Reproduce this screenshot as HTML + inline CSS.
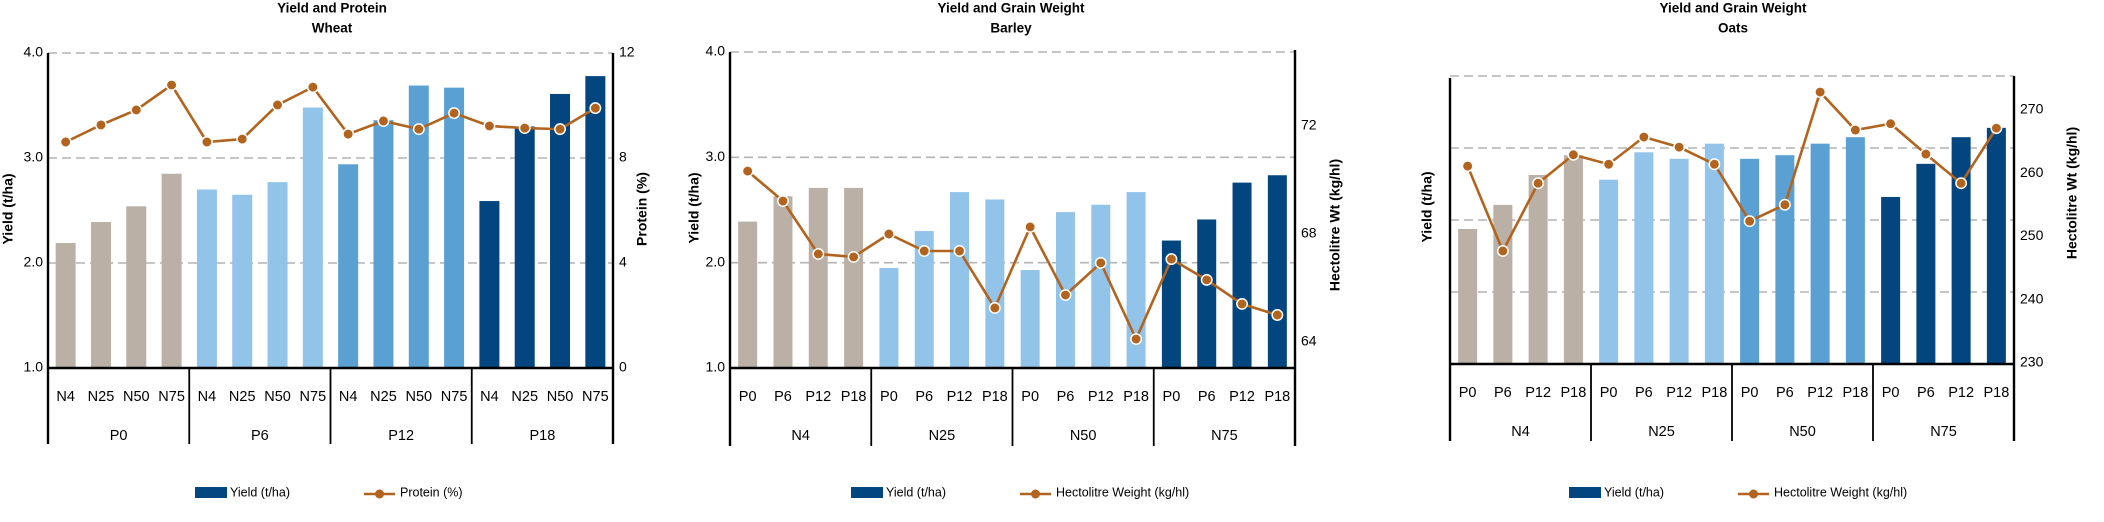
<!DOCTYPE html>
<html><head><meta charset="utf-8"><style>
html,body{margin:0;padding:0;background:#fff;}
svg{display:block;font-family:"Liberation Sans",Arial,sans-serif;}
</style></head><body>
<svg id="svg" width="2104" height="522" viewBox="0 0 2104 522" xmlns="http://www.w3.org/2000/svg"></svg>
<script>
// ---- Wheat data ----
const wheatGroups = ["P0","P6","P12","P18"];
const wheatSub = ["N4","N25","N50","N75"];
const wheatYield = [2.19,2.39,2.54,2.85, 2.70,2.65,2.77,3.48, 2.94,3.36,3.69,3.67, 2.59,3.30,3.61,3.78];
const wheatProtein = [8.61,9.26,9.83,10.78, 8.61,8.72,10.02,10.70, 8.91,9.41,9.10,9.71, 9.22,9.14,9.10,9.90];
const wheatLeftTicks = ["4.0","3.0","2.0","1.0"];
const wheatLeftTickVals = [4,3,2,1];
const wheatRightTicks = ["12","8","4","0"];
const wheatRightTickVals = [12,8,4,0];
// ---- Barley data ----
const barleyGroups = ["N4","N25","N50","N75"];
const barleySub = ["P0","P6","P12","P18"];
const barleyYield = [2.39,2.63,2.71,2.71, 1.95,2.30,2.67,2.60, 1.93,2.48,2.55,2.67, 2.21,2.41,2.76,2.83];
const barleyHW = [70.33,69.22,67.26,67.15, 68.0,67.37,67.37,65.26, 68.26,65.74,66.93,64.11, 67.07,66.30,65.41,65.0];
const barleyLeftTicks = ["4.0","3.0","2.0","1.0"];
const barleyLeftTickVals = [4,3,2,1];
const barleyRightTicks = ["72","68","64"];
const barleyRightTickVals = [72,68,64];
// ---- Oats data ----
const oatsGroups = ["N4","N25","N50","N75"];
const oatsSub = ["P0","P6","P12","P18"];
const oatsYield = [1.875,2.21,2.625,2.90, 2.56,2.94,2.85,3.06, 2.85,2.90,3.06,3.15, 2.32,2.78,3.15,3.28];
const oatsHW = [261.1,247.7,258.4,262.9, 261.4,265.7,264.1,261.4, 252.4,255.0,272.8,266.8, 267.8,263.0,258.4,267.1];
const oatsRightTicks = ["270","260","250","240","230"];
const oatsRightTickVals = [270,260,250,240,230];

const colorsA = ["#bab0a5","#92c3e9","#5aa0d3","#03467f"];
const colorsB = ["#bab0a5","#92c3e9","#92c3e9","#03467f"];
const lineColor = "#b2641f";
const NS = "http://www.w3.org/2000/svg";
const svg = document.getElementById('svg');
function mk(tag, attrs, parent){const e=document.createElementNS(NS,tag);for(const k in attrs)e.setAttribute(k,attrs[k]);(parent||svg).appendChild(e);return e;}

function drawChart(c){
  const g = mk('g',{});
  
  
  const L=c.left,R=c.right,B=c.bottom;
  const yL = v => B - (v - c.lMin)/(c.lMax - c.lMin)*(B - c.lTop);
  const yR = v => c.rY0 - (v - c.rV0)*c.rPx;
  const n = c.yield.length, slot=(R-L)/n;
  const xC = i => L + slot*(i+0.5);
  c.grid.forEach(v=>{
    const ln=mk('line',{x1:L,x2:R,y1:yL(v),y2:yL(v),stroke:'#b3b3b3','stroke-width':1.6,'stroke-dasharray':'9,5'},g);
    
    
  });
  c.yield.forEach((v,i)=>{
    const grp=Math.floor(i/c.sub.length);
    const r=mk('rect',{x:xC(i)-c.barW/2,y:yL(v),width:c.barW,height:B-yL(v),fill:c.colors[grp]},g);
    
    
  });
  const pts=c.line.map((v,i)=>xC(i)+','+yR(v)).join(' ');
  const pl=mk('polyline',{points:pts,fill:'none',stroke:lineColor,'stroke-width':2.6},g);
  
  
  c.line.forEach((v,i)=>{
    const m=mk('circle',{cx:xC(i),cy:yR(v),r:5.2,fill:lineColor,stroke:'#fff','stroke-width':1.5},g);
    
    
  });
  const ax=mk('line',{x1:L,x2:L,y1:c.lAxisTop,y2:c.catBottom,stroke:'#000','stroke-width':2.4},g);
  
  
  const ax2=mk('line',{x1:R,x2:R,y1:c.rAxisTop,y2:c.catBottom,stroke:'#000','stroke-width':2.4},g);
  
  
  const xb=mk('line',{x1:L,x2:R,y1:B,y2:B,stroke:'#000','stroke-width':2.4},g);
  
  
  const gw=(R-L)/c.groups.length;
  for(let k=1;k<c.groups.length;k++){
    const d=mk('line',{x1:L+gw*k,x2:L+gw*k,y1:B,y2:c.catBottom,stroke:'#000','stroke-width':1.8},g);
    
    
  }
  c.yield.forEach((v,i)=>{
    const t=mk('text',{x:xC(i),y:c.subY,'font-size':c.catFs,'text-anchor':'middle','dominant-baseline':'middle',fill:'#000'},g);
    t.textContent=c.sub[i%c.sub.length];
    
    
  });
  c.groups.forEach((s,k)=>{
    const t=mk('text',{x:L+gw*(k+0.5),y:c.grpY,'font-size':c.catFs,'text-anchor':'middle','dominant-baseline':'middle',fill:'#000'},g);
    t.textContent=s;
    
    
  });
  c.lTicks.forEach((s,k)=>{
    const t=mk('text',{x:L-5,y:yL(c.lTickVals[k]),'font-size':14,'text-anchor':'end','dominant-baseline':'middle'},g);
    t.textContent=s;
    
    
  });
  c.rTicks.forEach((s,k)=>{
    const t=mk('text',{x:R+6,y:yR(c.rTickVals[k]),'font-size':14,'text-anchor':'start','dominant-baseline':'middle'},g);
    t.textContent=s;
    
    
  });
  const lt=mk('text',{x:0,y:0,'font-size':14,'font-weight':'bold','text-anchor':'middle','dominant-baseline':'middle',transform:`translate(${c.lTitleX},${c.lTitleY}) rotate(-90)`},g);
  lt.textContent='Yield (t/ha)';
  
  
  const rt=mk('text',{x:0,y:0,'font-size':14,'font-weight':'bold','text-anchor':'middle','dominant-baseline':'middle',transform:`translate(${c.rTitleX},${c.rTitleY}) rotate(-90)`},g);
  rt.textContent=c.rTitle;
  
  
  [c.title1,c.title2].forEach((s,k)=>{
    const t=mk('text',{x:c.titleX,y:k?29:9,'font-size':13.5,'font-weight':'bold','text-anchor':'middle','dominant-baseline':'middle'},g);
    t.textContent=s;
    
    
  });
  const lg=mk('g',{},g);
  
  
  const lr=mk('rect',{x:c.legX,y:487,width:32,height:11,fill:'#03467f'},lg);
  
  
  const ltx=mk('text',{x:c.legX+35,y:493,'font-size':12.5,'dominant-baseline':'middle'},lg);
  ltx.textContent='Yield (t/ha)';
  
  
  const ll=mk('line',{x1:c.leg2X,x2:c.leg2X+31,y1:494,y2:494,stroke:lineColor,'stroke-width':2.4},lg);
  
  
  const lc=mk('circle',{cx:c.leg2X+15.5,cy:494,r:4.5,fill:lineColor},lg);
  
  
  const l2=mk('text',{x:c.leg2X+36,y:493,'font-size':12.5,'dominant-baseline':'middle'},lg);
  l2.textContent=c.rLegend;
  
  
}

drawChart({id:'wheat',left:48,right:613,bottom:368,lTop:53,lMin:1,lMax:4,lAxisTop:53,rAxisTop:53,catBottom:444,
  rY0:368,rV0:0,rPx:26.25,barW:20,yield:wheatYield,line:wheatProtein,groups:wheatGroups,sub:wheatSub,colors:colorsA,
  grid:[4,3,2],lTicks:wheatLeftTicks,lTickVals:wheatLeftTickVals,rTicks:wheatRightTicks,rTickVals:wheatRightTickVals,
  subY:397,grpY:436,catFs:14.5,lTitleX:9,lTitleY:209,rTitleX:643,rTitleY:209,rTitle:'Protein (%)',
  title1:'Yield and Protein',title2:'Wheat',titleX:332,legX:195,leg2X:364,rLegend:'Protein (%)',lineName:'protein'});

drawChart({id:'barley',left:730,right:1295,bottom:368,lTop:52,lMin:1,lMax:4,lAxisTop:52,rAxisTop:50,catBottom:446,
  rY0:342,rV0:64,rPx:27,barW:19,yield:barleyYield,line:barleyHW,groups:barleyGroups,sub:barleySub,colors:colorsB,
  grid:[4,3,2],lTicks:barleyLeftTicks,lTickVals:barleyLeftTickVals,rTicks:barleyRightTicks,rTickVals:barleyRightTickVals,
  subY:397,grpY:436,catFs:14.5,lTitleX:695,lTitleY:208,rTitleX:1336,rTitleY:225,rTitle:'Hectolitre Wt (kg/hl)',
  title1:'Yield and Grain Weight',title2:'Barley',titleX:1011,legX:851,leg2X:1020,rLegend:'Hectolitre Weight (kg/hl)',lineName:'hectolitre-weight'});

drawChart({id:'oats',left:1450,right:2014,bottom:364,lTop:76,lMin:0,lMax:4,lAxisTop:78,rAxisTop:76,catBottom:441,
  rY0:363,rV0:230,rPx:6.33,barW:19,yield:oatsYield,line:oatsHW,groups:oatsGroups,sub:oatsSub,colors:colorsA,
  grid:[4,3,2,1],lTicks:[],lTickVals:[],rTicks:oatsRightTicks,rTickVals:oatsRightTickVals,
  subY:393,grpY:432,catFs:14.5,lTitleX:1428,lTitleY:207,rTitleX:2073,rTitleY:193,rTitle:'Hectolitre Wt (kg/hl)',
  title1:'Yield and Grain Weight',title2:'Oats',titleX:1733,legX:1569,leg2X:1738,rLegend:'Hectolitre Weight (kg/hl)',lineName:'hectolitre-weight'});
</script>
</body></html>
